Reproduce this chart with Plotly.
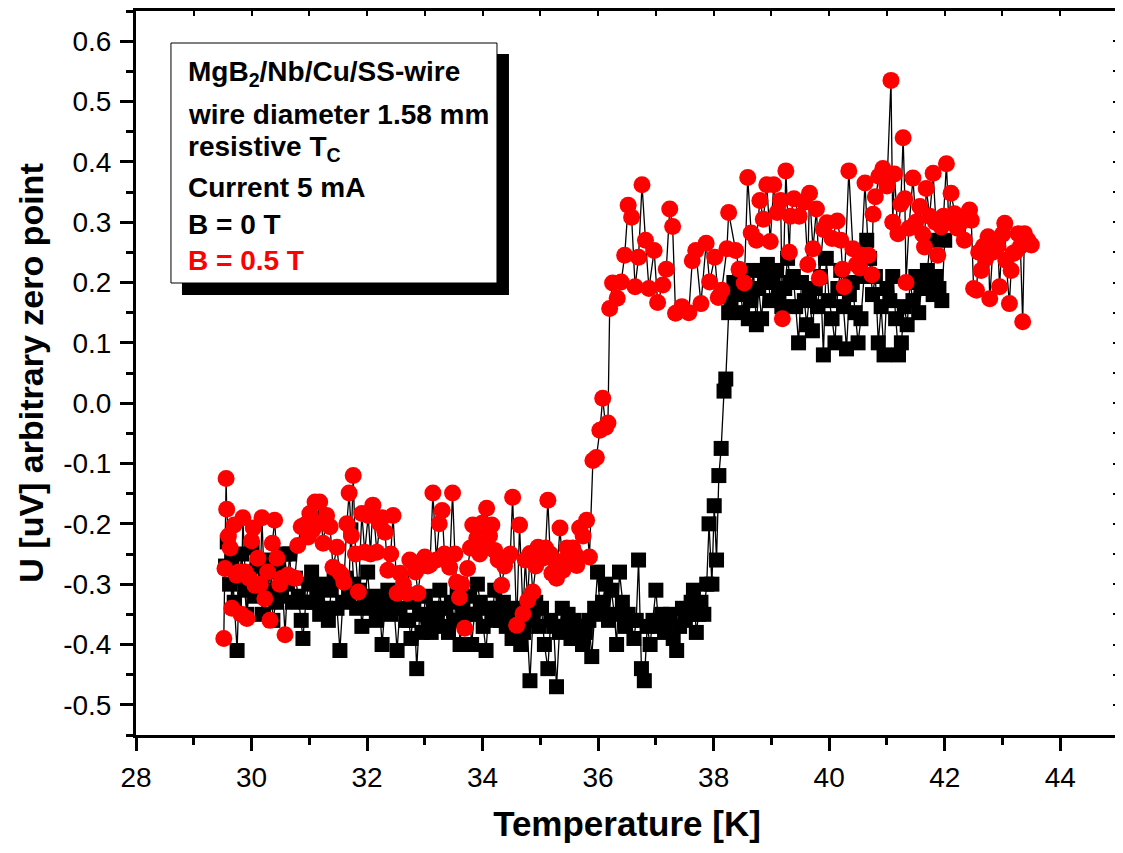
import plotly.graph_objects as go

# ---------------- data ----------------
T_b0 = [29.55, 29.58, 29.62, 29.66, 29.70, 29.75, 29.79, 29.83, 29.88, 29.92,
        29.97, 30.01, 30.06, 30.10, 30.15, 30.19, 30.24, 30.28, 30.33, 30.37,
        30.42, 30.47, 30.52, 30.57, 30.62, 30.66, 30.71, 30.76, 30.81, 30.86,
        30.89, 30.94, 30.99, 31.04, 31.08, 31.13, 31.18, 31.23, 31.28, 31.33,
        31.38, 31.43, 31.48, 31.53, 31.58, 31.63, 31.68, 31.72, 31.77, 31.82,
        31.87, 31.91, 31.96, 32.01, 32.06, 32.11, 32.16, 32.21, 32.26, 32.31,
        32.36, 32.41, 32.46, 32.52, 32.57, 32.62, 32.67, 32.72, 32.76, 32.81,
        32.86, 32.91, 32.96, 33.01, 33.06, 33.11, 33.16, 33.21, 33.26, 33.31,
        33.36, 33.41, 33.46, 33.51, 33.56, 33.61, 33.66, 33.71, 33.76, 33.81,
        33.86, 33.91, 33.96, 34.01, 34.06, 34.11, 34.16, 34.21, 34.26, 34.31,
        34.36, 34.41, 34.46, 34.51, 34.56, 34.61, 34.66, 34.71, 34.76, 34.82,
        34.87, 34.92, 34.97, 35.02, 35.07, 35.13, 35.18, 35.23, 35.28, 35.33,
        35.38, 35.43, 35.48, 35.53, 35.58, 35.63, 35.68, 35.73, 35.78, 35.84,
        35.89, 35.94, 35.99, 36.04, 36.08, 36.13, 36.18, 36.23, 36.28, 36.32,
        36.37, 36.42, 36.47, 36.52, 36.57, 36.62, 36.66, 36.70, 36.75, 36.80,
        36.85, 36.90, 36.95, 37.00, 37.05, 37.10, 37.15, 37.20, 37.25, 37.30,
        37.36, 37.41, 37.46, 37.51, 37.56, 37.61, 37.65, 37.70, 37.74, 37.78,
        37.83, 37.88, 37.92, 37.97, 38.01, 38.05, 38.09, 38.13, 38.18, 38.21,
        38.26, 38.30, 38.35, 38.40, 38.45, 38.50, 38.55, 38.60, 38.64, 38.69,
        38.74, 38.78, 38.83, 38.88, 38.93, 38.98, 39.03, 39.08, 39.13, 39.18,
        39.23, 39.28, 39.33, 39.38, 39.42, 39.47, 39.52, 39.57, 39.61, 39.66,
        39.71, 39.76, 39.80, 39.85, 39.90, 39.95, 40.00, 40.05, 40.10, 40.15,
        40.20, 40.25, 40.30, 40.35, 40.40, 40.45, 40.50, 40.55, 40.60, 40.65,
        40.70, 40.75, 40.80, 40.85, 40.90, 40.95, 41.00, 41.05, 41.10, 41.15,
        41.20, 41.25, 41.30, 41.35, 41.40, 41.45, 41.50, 41.55, 41.60, 41.65,
        41.70, 41.75, 41.80, 41.85, 41.90, 41.95, 42.00]
U_b0 = [-0.27, -0.23, -0.30, -0.26, -0.33, -0.41, -0.29, -0.25, -0.31, -0.35,
        -0.28, -0.24, -0.32, -0.27, -0.30, -0.35, -0.26, -0.31, -0.28, -0.36,
        -0.33, -0.27, -0.32, -0.25, -0.30, -0.25, -0.33, -0.29, -0.32, -0.36,
        -0.39, -0.33, -0.30, -0.28, -0.33, -0.32, -0.35, -0.30, -0.34, -0.36,
        -0.31, -0.29, -0.34, -0.41, -0.33, -0.29, -0.32, -0.21, -0.30, -0.34,
        -0.31, -0.37, -0.33, -0.28, -0.34, -0.32, -0.36, -0.33, -0.40, -0.34,
        -0.31, -0.35, -0.33, -0.41, -0.34, -0.31, -0.36, -0.36, -0.39, -0.33,
        -0.44, -0.35, -0.38, -0.32, -0.36, -0.38, -0.34, -0.36, -0.31, -0.37,
        -0.34, -0.38, -0.33, -0.36, -0.31, -0.40, -0.34, -0.35, -0.32, -0.40,
        -0.35, -0.30, -0.33, -0.37, -0.41, -0.34, -0.36, -0.31, -0.34, -0.36,
        -0.33, -0.37, -0.35, -0.39, -0.34, -0.36, -0.40, -0.38, -0.35, -0.46,
        -0.36, -0.33, -0.37, -0.34, -0.40, -0.44, -0.36, -0.37, -0.47, -0.38,
        -0.34, -0.37, -0.35, -0.39, -0.36, -0.39, -0.37, -0.40, -0.38, -0.36,
        -0.42, -0.34, -0.28, -0.35, -0.33, -0.30, -0.36, -0.31, -0.35, -0.40,
        -0.28, -0.33, -0.37, -0.35, -0.36, -0.39, -0.36, -0.26, -0.44, -0.46,
        -0.37, -0.40, -0.36, -0.31, -0.37, -0.35, -0.38, -0.36, -0.35, -0.39,
        -0.41, -0.37, -0.34, -0.36, -0.35, -0.33, -0.31, -0.38, -0.35, -0.33,
        -0.35, -0.30, -0.20, -0.30, -0.17, -0.26, -0.12, -0.075, 0.02, 0.04,
        0.15, 0.17, 0.20, 0.18, 0.21, 0.15, 0.19, 0.14, 0.17, 0.22,
        0.13, 0.19, 0.14, 0.21, 0.23, 0.17, 0.20, 0.22, 0.18, 0.16,
        0.19, 0.24, 0.20, 0.21, 0.16, 0.10, 0.20, 0.17, 0.13, 0.18,
        0.12, 0.19, 0.16, 0.21, 0.08, 0.24, 0.17, 0.14, 0.10, 0.19,
        0.22, 0.16, 0.09, 0.18, 0.20, 0.15, 0.10, 0.14, 0.21, 0.27,
        0.24, 0.18, 0.21, 0.10, 0.16, 0.08, 0.19, 0.17, 0.21, 0.14,
        0.08, 0.10, 0.16, 0.13, 0.20, 0.17, 0.21, 0.15, 0.19, 0.20,
        0.22, 0.27, 0.18, 0.21, 0.19, 0.17, 0.27]

T_b05 = [29.52, 29.54, 29.56, 29.57, 29.60, 29.63, 29.66, 29.70, 29.74, 29.78,
         29.82, 29.85, 29.89, 29.92, 29.96, 30.00, 30.03, 30.06, 30.11, 30.15,
         30.18, 30.23, 30.28, 30.32, 30.36, 30.40, 30.44, 30.49, 30.53, 30.58,
         30.63, 30.70, 30.75, 30.80, 30.86, 30.92, 30.98, 31.01, 31.06, 31.10,
         31.14, 31.18, 31.24, 31.30, 31.36, 31.41, 31.48, 31.52, 31.56, 31.60,
         31.65, 31.69, 31.73, 31.76, 31.80, 31.85, 31.91, 31.96, 32.02, 32.06,
         32.10, 32.17, 32.22, 32.26, 32.31, 32.36, 32.41, 32.45, 32.52, 32.57,
         32.63, 32.69, 32.74, 32.79, 32.84, 32.88, 32.94, 33.00, 33.05, 33.09,
         33.14, 33.20, 33.25, 33.30, 33.34, 33.38, 33.43, 33.48, 33.52, 33.55,
         33.60, 33.64, 33.69, 33.74, 33.79, 33.83, 33.90, 33.95, 33.99, 34.03,
         34.07, 34.12, 34.16, 34.21, 34.27, 34.33, 34.38, 34.44, 34.48, 34.52,
         34.59, 34.64, 34.70, 34.74, 34.78, 34.82, 34.87, 34.92, 34.96, 35.00,
         35.04, 35.09, 35.13, 35.17, 35.20, 35.24, 35.28, 35.34, 35.39, 35.43,
         35.46, 35.51, 35.56, 35.60, 35.63, 35.68, 35.74, 35.80, 35.85, 35.91,
         35.97, 36.03, 36.08, 36.13, 36.17, 36.20, 36.25, 36.33, 36.40, 36.46,
         36.52, 36.58, 36.64, 36.70, 36.76, 36.82, 36.88, 36.97, 37.03, 37.12,
         37.18, 37.24, 37.29, 37.34, 37.45, 37.57, 37.63, 37.69, 37.78, 37.87,
         37.93, 38.02, 38.08, 38.14, 38.23, 38.26, 38.38, 38.44, 38.53, 38.59,
         38.65, 38.74, 38.80, 38.86, 38.92, 38.98, 39.04, 39.10, 39.16, 39.19,
         39.25, 39.31, 39.33, 39.39, 39.48, 39.57, 39.63, 39.66, 39.72, 39.78,
         39.83, 39.90, 39.96, 40.05, 40.14, 40.20, 40.23, 40.26, 40.34, 40.41,
         40.47, 40.53, 40.56, 40.62, 40.68, 40.74, 40.76, 40.80, 40.86, 40.93,
         41.00, 41.07, 41.10, 41.13, 41.19, 41.24, 41.28, 41.31, 41.33, 41.38,
         41.45, 41.50, 41.57, 41.62, 41.65, 41.68, 41.74, 41.80, 41.84, 41.88,
         41.94, 41.98, 42.03, 42.07, 42.11, 42.17, 42.22, 42.28, 42.34, 42.38,
         42.43, 42.46, 42.50, 42.55, 42.59, 42.63, 42.67, 42.71, 42.75, 42.78,
         42.83, 42.88, 42.92, 42.95, 43.00, 43.04, 43.06, 43.12, 43.15, 43.18,
         43.22, 43.27, 43.31, 43.35, 43.38, 43.44, 43.50]
U_b05 = [-0.39, -0.274, -0.125, -0.176, -0.22, -0.24, -0.34, -0.202, -0.285, -0.28,
         -0.35, -0.19, -0.28, -0.357, -0.29, -0.228, -0.207, -0.302, -0.257, -0.30,
         -0.19, -0.324, -0.28, -0.36, -0.232, -0.194, -0.257, -0.30, -0.29, -0.384,
         -0.285, -0.288, -0.29, -0.236, -0.205, -0.202, -0.222, -0.183, -0.21, -0.164,
         -0.20, -0.164, -0.232, -0.186, -0.205, -0.272, -0.239, -0.28, -0.285, -0.297,
         -0.20, -0.149, -0.22, -0.12, -0.25, -0.313, -0.183, -0.247, -0.186, -0.25,
         -0.169, -0.247, -0.20, -0.19, -0.214, -0.277, -0.25, -0.186, -0.315, -0.282,
         -0.30, -0.315, -0.26, -0.264, -0.28, -0.315, -0.27, -0.255, -0.27, -0.268,
         -0.149, -0.26, -0.20, -0.178, -0.25, -0.258, -0.272, -0.149, -0.25, -0.297,
         -0.322, -0.30, -0.373, -0.274, -0.24, -0.202, -0.224, -0.25, -0.199, -0.24,
         -0.174, -0.22, -0.202, -0.244, -0.26, -0.302, -0.27, -0.255, -0.25, -0.156,
         -0.368, -0.202, -0.349, -0.26, -0.327, -0.249, -0.313, -0.27, -0.239, -0.25,
         -0.257, -0.24, -0.161, -0.25, -0.282, -0.26, -0.29, -0.207, -0.277, -0.26,
         -0.24, -0.26, -0.24, -0.25, -0.269, -0.207, -0.22, -0.194, -0.255, -0.095,
         -0.09, -0.045, 0.008, -0.04, -0.033, 0.157, 0.199, 0.174, 0.201, 0.245,
         0.328, 0.308, 0.193, 0.242, 0.362, 0.27, 0.19, 0.253, 0.167, 0.196,
         0.222, 0.322, 0.293, 0.149, 0.16, 0.15, 0.236, 0.253, 0.165, 0.265,
         0.201, 0.242, 0.175, 0.187, 0.256, 0.316, 0.253, 0.222, 0.199, 0.374,
         0.282, 0.27, 0.336, 0.305, 0.362, 0.268, 0.362, 0.316, 0.336, 0.14,
         0.385, 0.25, 0.31, 0.339, 0.31, 0.333, 0.23, 0.348, 0.256, 0.322,
         0.207, 0.288, 0.299, 0.273, 0.302, 0.27, 0.222, 0.193, 0.385, 0.256,
         0.23, 0.224, 0.245, 0.365, 0.245, 0.213, 0.313, 0.342, 0.376, 0.389,
         0.36, 0.535, 0.30, 0.38, 0.281, 0.33, 0.44, 0.339, 0.20, 0.29,
         0.373, 0.30, 0.326, 0.28, 0.259, 0.356, 0.31, 0.381, 0.30, 0.245,
         0.292, 0.31, 0.397, 0.30, 0.348, 0.314, 0.29, 0.30, 0.27, 0.31,
         0.32, 0.303, 0.19, 0.187, 0.25, 0.22, 0.26, 0.24, 0.276, 0.173,
         0.25, 0.27, 0.26, 0.193, 0.28, 0.298, 0.237, 0.165, 0.22, 0.248,
         0.25, 0.281, 0.26, 0.135, 0.281, 0.27, 0.262]

x_tick_vals = [28, 30, 32, 34, 36, 38, 40, 42, 44]
x_tick_text = ["28", "30", "32", "34", "36", "38", "40", "42", "44"]
y_tick_vals = [-0.5, -0.4, -0.3, -0.2, -0.1, 0.0, 0.1, 0.2, 0.3, 0.4, 0.5, 0.6]
y_tick_text = ["-0.5", "-0.4", "-0.3", "-0.2", "-0.1", "0.0", "0.1", "0.2", "0.3", "0.4", "0.5", "0.6"]

info_lines = ["MgB<sub>2</sub>/Nb/Cu/SS-wire", "wire diameter 1.58 mm",
              "resistive T<sub>C</sub>", "Current 5 mA", "B = 0 T", "B = 0.5 T"]
info_colors = ["#000000", "#000000", "#000000", "#000000", "#000000", "#ff0000"]

x_range = [28, 45]
y_range = [-0.55, 0.65]

FONT = "Liberation Sans, Arial, sans-serif"

fig = go.Figure()
fig.add_trace(go.Scatter(x=T_b0, y=U_b0, mode="lines+markers", name="B = 0 T",
                         line=dict(color="black", width=1.3),
                         marker=dict(symbol="square", size=15, color="black", line=dict(width=0))))
fig.add_trace(go.Scatter(x=T_b05, y=U_b05, mode="lines+markers", name="B = 0.5 T",
                         line=dict(color="black", width=1.3),
                         marker=dict(symbol="circle", size=17, color="#ff0000", line=dict(width=0))))
# helper traces so the mirrored top/right axes (inside ticks) are drawn
fig.add_trace(go.Scatter(x=[], y=[], xaxis="x2", yaxis="y", showlegend=False, hoverinfo="skip"))
fig.add_trace(go.Scatter(x=[], y=[], xaxis="x", yaxis="y2", showlegend=False, hoverinfo="skip"))

axis_common = dict(showgrid=False, zeroline=False, showline=True, linecolor="black", linewidth=3,
                   ticks="outside", tickcolor="black", tickwidth=2.5, ticklen=13, automargin=False,
                   tickfont=dict(family=FONT, size=28, color="black"))

# the page body adds an 8 px offset, so the figure is sized to fit inside the window
fig.update_layout(
    width=1115, height=845,
    margin=dict(l=128, r=5, t=3, b=118),
    paper_bgcolor="white", plot_bgcolor="white",
    showlegend=False,
    xaxis=dict(range=x_range, tickmode="array", tickvals=x_tick_vals, ticktext=x_tick_text,
               ticklabelstandoff=2,
               minor=dict(dtick=1, tick0=28, ticklen=7, tickwidth=2.5, tickcolor="black", ticks="outside"),
               title=dict(text="<b>Temperature [K]</b>", font=dict(family=FONT, size=35, color="black"),
                          standoff=20),
               **axis_common),
    yaxis=dict(range=y_range, tickmode="array", tickvals=y_tick_vals, ticktext=y_tick_text,
               ticklabelstandoff=3,
               minor=dict(dtick=0.05, tick0=0, ticklen=7, tickwidth=2.5, tickcolor="black", ticks="outside"),
               title=dict(text="<b>U [uV] arbitrary zero point</b>", font=dict(family=FONT, size=34, color="black"),
                          standoff=10),
               **axis_common),
    xaxis2=dict(overlaying="x", side="top", anchor="y", range=x_range, dtick=1, tick0=28,
                showgrid=False, zeroline=False, showline=True, linecolor="black", linewidth=3,
                ticks="inside", ticklen=5, tickwidth=2, tickcolor="black", showticklabels=False,
                automargin=False),
    yaxis2=dict(overlaying="y", side="right", anchor="x", range=y_range, dtick=0.05, tick0=0,
                showgrid=False, zeroline=False, showline=True, linecolor="black", linewidth=3,
                ticks="inside", ticklen=5, tickwidth=2, tickcolor="black", showticklabels=False,
                automargin=False),
)

# info box with drop shadow (paper coordinates = fractions of the plot area)
fig.add_shape(type="rect", xref="paper", yref="paper", layer="above",
              x0=0.0468, x1=0.3798, y0=0.6077, y1=0.9406,
              fillcolor="black", line=dict(width=0))
fig.add_shape(type="rect", xref="paper", yref="paper", layer="above",
              x0=0.0356, x1=0.3676, y0=0.6243, y1=0.9558,
              fillcolor="white", line=dict(color="black", width=1))

line_y = [0.9131, 0.8577, 0.8107, 0.7569, 0.7051, 0.6560]
for txt, col, yy in zip(info_lines, info_colors, line_y):
    fig.add_annotation(xref="paper", yref="paper", x=0.051, y=yy, xanchor="left", yanchor="middle",
                       text="<b>" + txt + "</b>", showarrow=False,
                       font=dict(family=FONT, size=28, color=col))

fig.write_html("out.html")
